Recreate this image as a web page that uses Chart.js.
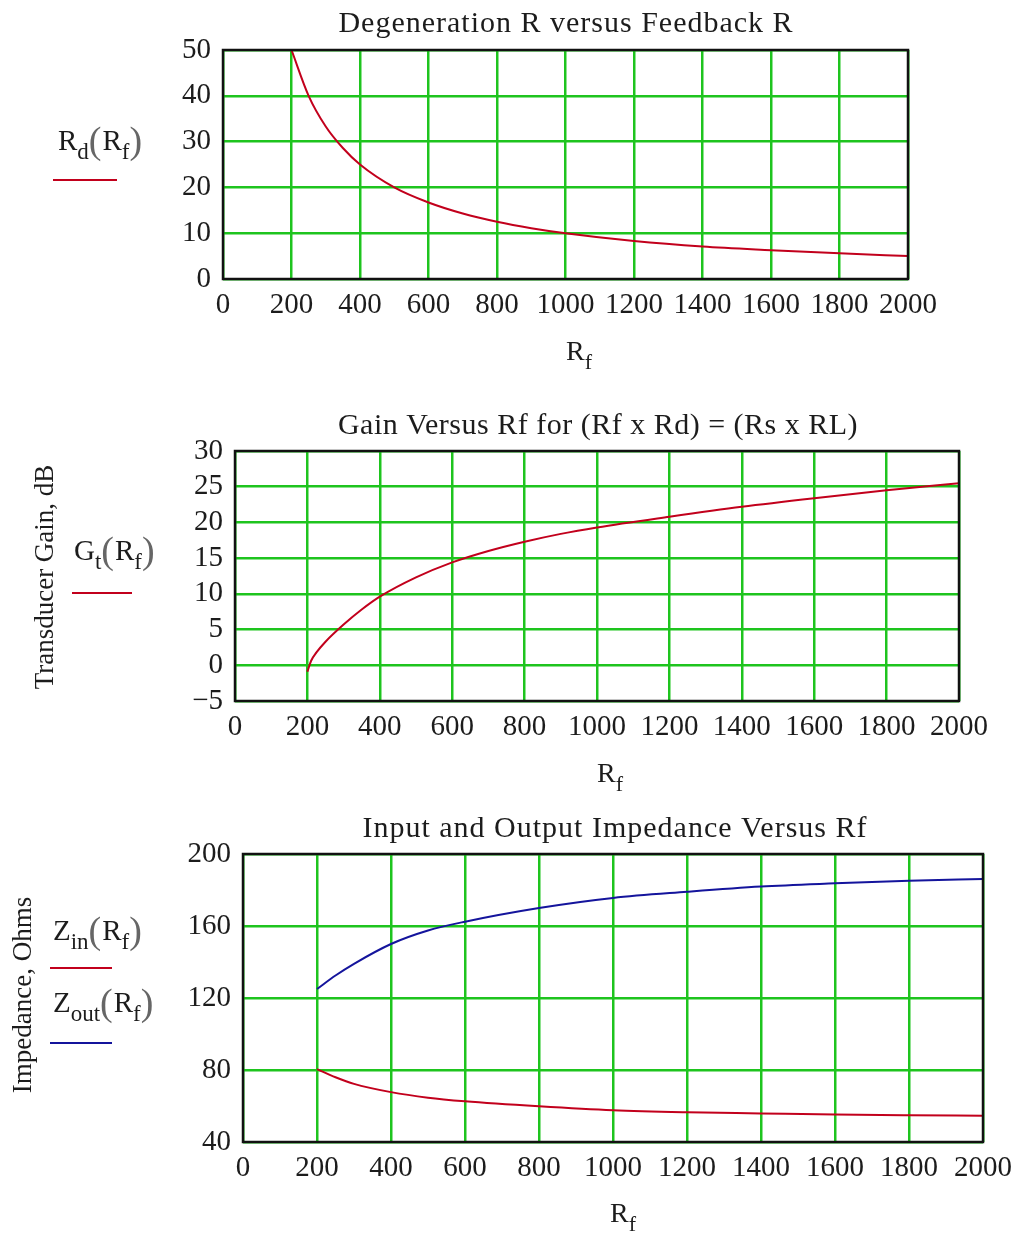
<!DOCTYPE html>
<html><head><meta charset="utf-8">
<script src="https://cdn.jsdelivr.net/npm/chart.js@4"></script>
<style>
html,body{margin:0;padding:0;background:#fff;}
#wrap{position:relative;width:1021px;height:1234px;overflow:hidden;background:#fff;}
canvas{position:absolute;left:0;}
</style></head><body>
<div id="wrap">
<canvas id="c1" width="1021" height="390" style="top:0px"></canvas>
<canvas id="c2" width="1021" height="410" style="top:390px"></canvas>
<canvas id="c3" width="1021" height="434" style="top:800px"></canvas>
</div>
<script>
// ---- data ----
const rfRd   = [200,250,300,350,400,500,600,700,800,900,1000,1200,1400,1600,1800,2000];
const rdVals = [50,40,33.3,28.6,25,20,16.7,14.3,12.5,11.1,10,8.3,7.1,6.3,5.6,5];

const rfGt   = [200,210,225,250,300,350,400,500,600,700,800,900,1000,1200,1400,1600,1800,2000];
const gtVals = [-0.9,0.6,1.8,3.3,5.7,7.8,9.6,12.3,14.4,16.0,17.3,18.4,19.3,20.8,22.2,23.4,24.5,25.5];

const rfZ      = [200,250,300,400,500,600,800,1000,1200,1400,1600,1800,2000];
const zinVals  = [80.5,76,72.3,67.7,64.6,62.6,59.8,57.6,56.5,55.9,55.3,54.9,54.6];
const zoutVals = [125,132.5,139,150,157.5,162.4,170,175.6,179,181.9,183.7,185.2,186.1];

const xRange = [0, 2000, 200];
const yRange1 = [0, 50, 10];
const yRange2 = [-5, 30, 5];
const yRange3 = [40, 200, 40];

const title1 = 'Degeneration R versus Feedback R';
const title2 = 'Gain Versus Rf for (Rf x Rd) = (Rs x RL)';
const title3 = 'Input and Output Impedance Versus Rf';
const yTitle2 = 'Transducer Gain, dB';
const yTitle3 = 'Impedance, Ohms';

// ---- styling ----
const FONT = "'Liberation Serif', 'Times New Roman', serif";
const TXT = '#1c1c1c';
const GRID = '#1ec41e';
const RED = '#c2001c';
const BLUE = '#14149c';

function rich(ctx, x, y, segs, size) {
  const subSize = Math.round(size * 0.8);
  const parSize = Math.round(size * 1.3);
  let cx = x;
  ctx.textBaseline = 'alphabetic';
  ctx.textAlign = 'left';
  for (const s of segs) {
    const sz = s.sub ? subSize : (s.par ? parSize : size);
    ctx.font = sz + 'px ' + FONT;
    ctx.fillStyle = s.par ? '#666' : TXT;
    const dy = s.sub ? Math.round(size * 0.32) : (s.par ? Math.round(size * 0.12) : 0);
    ctx.fillText(s.t, cx, y + dy);
    cx += ctx.measureText(s.t).width + (s.par ? 1 : 0);
  }
  ctx.fillStyle = TXT;
}
const R_f = [{t:'R'},{t:'f',sub:true}];
function fn(name, sub) {
  return [{t:name},{t:sub,sub:true},{t:'(',par:true},{t:'R'},{t:'f',sub:true},{t:')',par:true}];
}

function decor(spec) {
  return {
    id: 'decor',
    afterDraw(chart) {
      const ctx = chart.ctx, a = chart.chartArea, off = spec.offset;
      ctx.save();
      ctx.strokeStyle = '#111';
      ctx.lineWidth = 2.5;
      ctx.strokeRect(a.left, a.top, a.right - a.left, a.bottom - a.top);
      // title
      ctx.fillStyle = TXT;
      ctx.font = '30px ' + FONT;
      ctx.textAlign = 'center';
      ctx.textBaseline = 'alphabetic';
      try { ctx.letterSpacing = spec.title.ls; } catch (e) {}
      ctx.fillText(spec.title.text, spec.title.x, spec.title.y - off);
      try { ctx.letterSpacing = '0px'; } catch (e) {}
      // y title
      if (spec.yTitle) {
        ctx.save();
        ctx.translate(spec.yTitle.x, spec.yTitle.y - off);
        ctx.rotate(-Math.PI / 2);
        ctx.font = '27px ' + FONT;
        ctx.textAlign = 'center';
        ctx.textBaseline = 'middle';
        ctx.fillText(spec.yTitle.text, 0, 0);
        ctx.restore();
      }
      // legends
      for (const l of spec.legends) {
        rich(ctx, l.x, l.y - off, l.segs, 29);
        ctx.strokeStyle = l.color;
        ctx.lineWidth = 2;
        ctx.beginPath();
        ctx.moveTo(l.x1, l.ly - off);
        ctx.lineTo(l.x2, l.ly - off);
        ctx.stroke();
      }
      // x title
      rich(ctx, spec.xTitle.x, spec.xTitle.y - off, R_f, 28);
      ctx.restore();
    }
  };
}

function pts(xs, ys) { return xs.map((x, i) => ({x: x, y: ys[i]})); }

function makeChart(id, datasets, yr, pad, spec) {
  return new Chart(document.getElementById(id), {
    type: 'line',
    data: { datasets: datasets },
    options: {
      responsive: false,
      animation: false,
      layout: { padding: pad },
      plugins: { legend: {display:false}, title: {display:false}, tooltip: {enabled:false} },
      elements: { point: {radius:0}, line: {borderWidth:2, cubicInterpolationMode:'monotone'} },
      scales: {
        x: {
          type: 'linear', min: xRange[0], max: xRange[1],
          ticks: { stepSize: xRange[2], padding: 9, color: TXT, maxRotation: 0, autoSkip: false,
                   font: {family: FONT, size: 29}, callback: v => String(v) },
          grid: { color: GRID, lineWidth: 2.5, drawTicks: false },
          border: { display: false },
          afterFit: s => { s.height = 50; }
        },
        y: {
          min: yr[0], max: yr[1],
          ticks: { stepSize: yr[2], padding: 12, color: TXT, autoSkip: false,
                   font: {family: FONT, size: 29},
                   callback: v => v < 0 ? '\u2212' + (-v) : String(v) },
          grid: { color: GRID, lineWidth: 2.5, drawTicks: false },
          border: { display: false },
          afterFit: s => { s.width = 70; }
        }
      }
    },
    plugins: [decor(spec)]
  });
}

makeChart('c1',
  [{ data: pts(rfRd, rdVals), borderColor: RED }],
  yRange1,
  { left: 153, right: 113, top: 50, bottom: 61 },
  { offset: 0,
    title: { text: title1, x: 566, y: 32, ls: '1px' },
    legends: [{ segs: fn('R','d'), x: 58, y: 150, x1: 53, x2: 117, ly: 180, color: RED }],
    xTitle: { x: 566, y: 360 } });

makeChart('c2',
  [{ data: pts(rfGt, gtVals), borderColor: RED }],
  yRange2,
  { left: 165, right: 62, top: 61, bottom: 49 },
  { offset: 390,
    title: { text: title2, x: 598, y: 434, ls: '0.5px' },
    yTitle: { text: yTitle2, x: 46, y: 577 },
    legends: [{ segs: fn('G','t'), x: 74, y: 560, x1: 72, x2: 132, ly: 593, color: RED }],
    xTitle: { x: 597, y: 782 } });

makeChart('c3',
  [{ data: pts(rfZ, zinVals), borderColor: RED },
   { data: pts(rfZ, zoutVals), borderColor: BLUE }],
  yRange3,
  { left: 173, right: 34, top: 54, bottom: 42 },
  { offset: 800,
    title: { text: title3, x: 615, y: 837, ls: '1px' },
    yTitle: { text: yTitle3, x: 24, y: 995 },
    legends: [{ segs: fn('Z','in'), x: 53, y: 940, x1: 50, x2: 112, ly: 968, color: RED },
              { segs: fn('Z','out'), x: 53, y: 1012, x1: 50, x2: 112, ly: 1043, color: BLUE }],
    xTitle: { x: 610, y: 1222 } });
</script>
</body></html>
